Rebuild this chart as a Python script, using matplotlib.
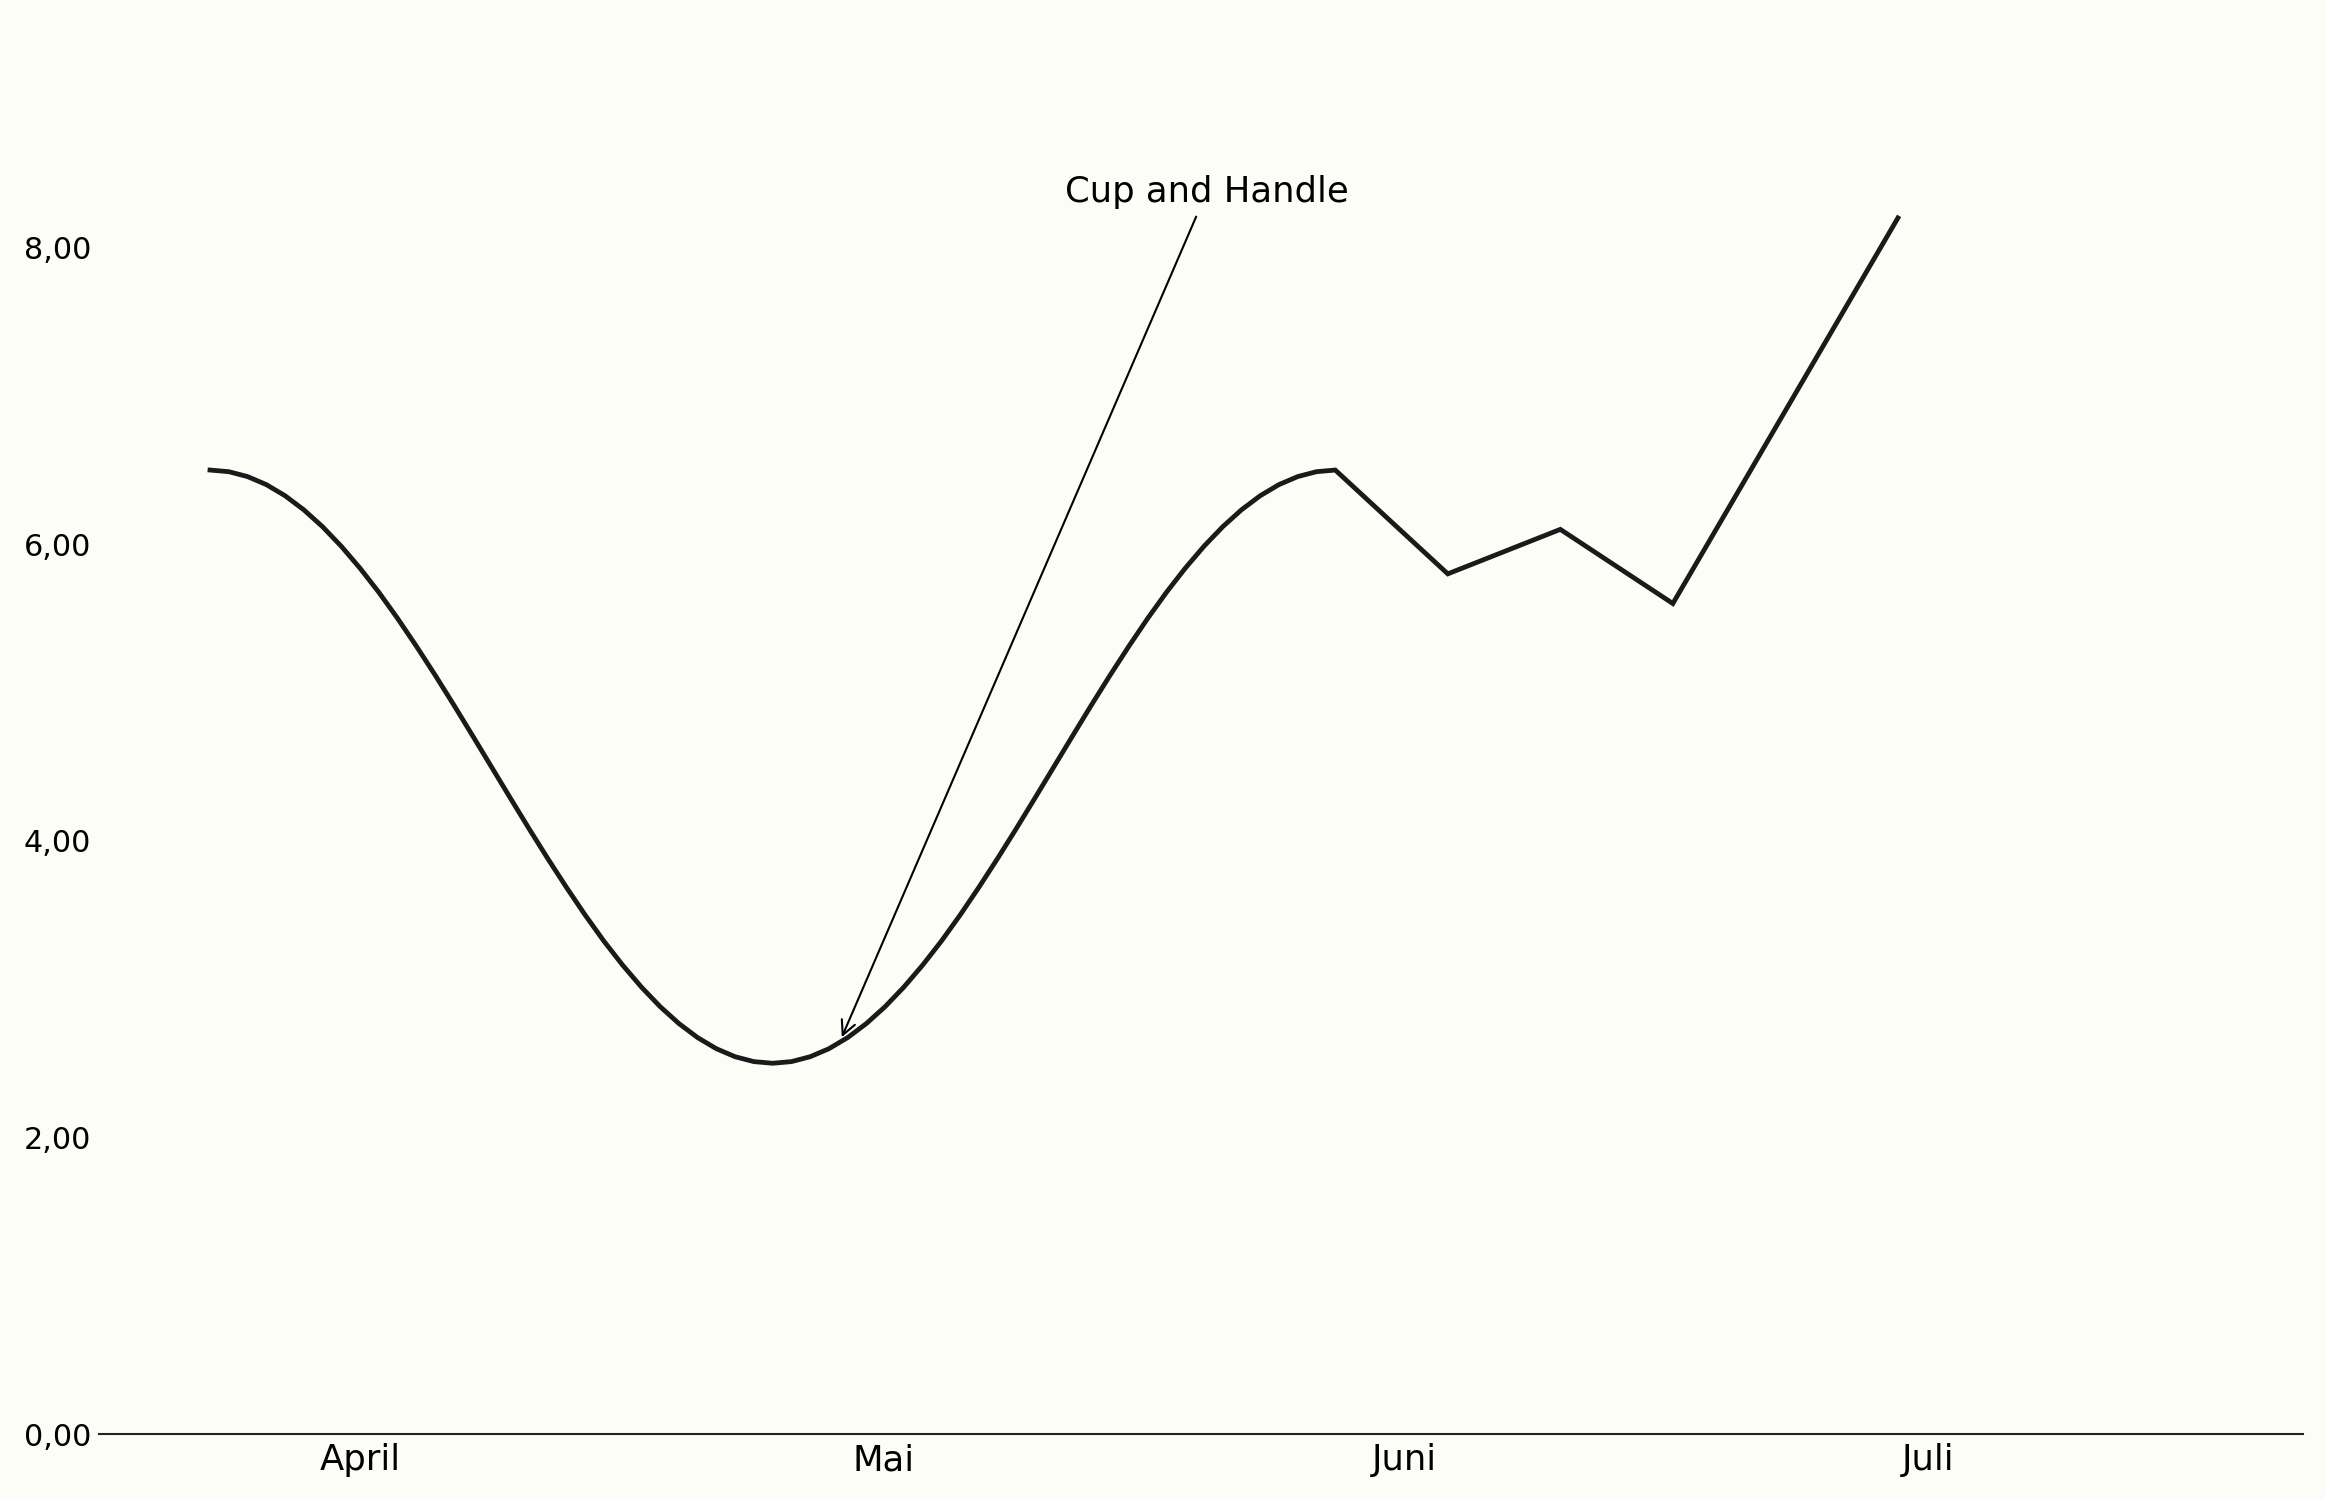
import numpy as np
import matplotlib
matplotlib.use("Agg")
import matplotlib.pyplot as plt

# ---- data ----
# cup: week index 0..10 in steps of 1/6
cup_x = np.linspace(0, 10, 61)
cup_y = [6.500, 6.489, 6.456, 6.402, 6.327, 6.232, 6.118, 5.986, 5.838, 5.676,
         5.500, 5.313, 5.118, 4.916, 4.709, 4.500, 4.291, 4.084, 3.882, 3.687,
         3.500, 3.324, 3.162, 3.014, 2.882, 2.768, 2.673, 2.598, 2.544, 2.511,
         2.500,
         2.511, 2.544, 2.598, 2.673, 2.768, 2.882, 3.014, 3.162, 3.324, 3.500,
         3.687, 3.882, 4.084, 4.291, 4.500, 4.709, 4.916, 5.118, 5.313, 5.500,
         5.676, 5.838, 5.986, 6.118, 6.232, 6.327, 6.402, 6.456, 6.489, 6.500]
# handle and breakout
handle_x = [11, 12, 13, 15]
handle_y = [5.80, 6.10, 5.60, 8.20]

month_labels = ["April", "Mai", "Juni", "Juli"]
month_pos = [1.333, 5.982, 10.613, 15.27]

y_ticks = [0, 2, 4, 6, 8]

annot_text = "Cup and Handle"
annot_xy = (5.60, 2.65)
annot_xytext = (8.86, 8.31)

# ---- figure ----
bg = "#fdfdf8"
fig = plt.figure(figsize=(15.5, 10), dpi=150, facecolor=bg)
ax = fig.add_axes([99.5 / 2325, 66 / 1500, (2303 - 99.5) / 2325, 9.6 * 148.3 / 1500])
ax.set_facecolor(bg)

xs = list(cup_x) + handle_x
ys = list(cup_y) + handle_y
ax.plot(xs, ys, color="#1a1a1a", lw=2.3, solid_joinstyle="miter")

ax.set_xlim(-0.982, 18.6)
ax.set_ylim(0, 9.6)

ax.set_yticks(y_ticks)
ax.set_yticklabels([f"{v:.2f}".replace(".", ",") for v in y_ticks], fontsize=14.5)
ax.set_xticks(month_pos)
ax.set_xticklabels(month_labels, fontsize=17)
ax.tick_params(axis="both", length=0, colors="black")
ax.tick_params(axis="y", pad=4)
ax.tick_params(axis="x", pad=4.5)

for s in ["top", "right", "left"]:
    ax.spines[s].set_visible(False)
ax.spines["bottom"].set_color("#222222")
ax.spines["bottom"].set_linewidth(1.0)

ax.annotate(annot_text, xy=annot_xy, xytext=annot_xytext,
            ha="center", va="baseline", fontsize=17,
            arrowprops=dict(arrowstyle="->", color="black", lw=1.0))

fig.savefig("out.png", dpi=150, facecolor=bg)
